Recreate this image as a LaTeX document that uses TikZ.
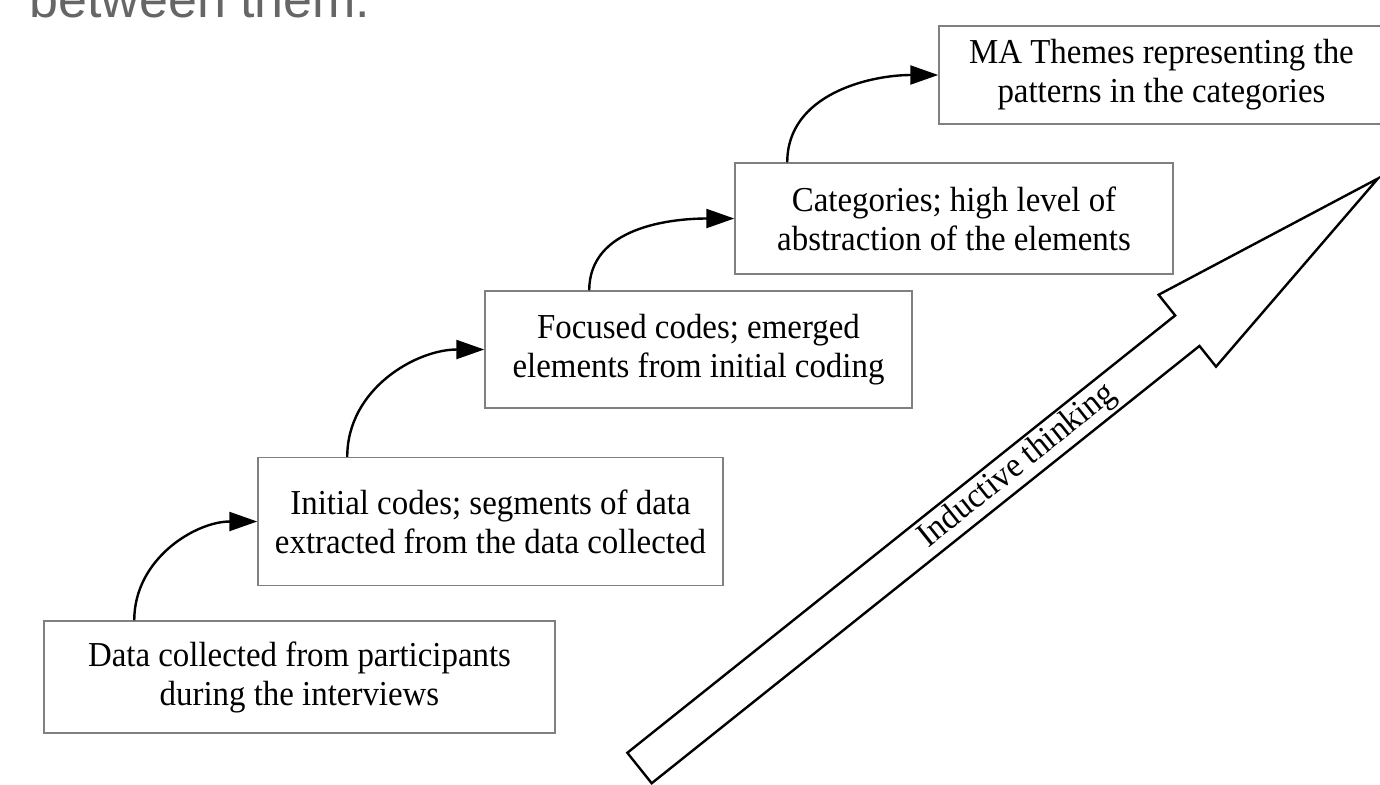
\documentclass[tikz,border=0pt]{standalone}
\usepackage{fontspec}
\setmainfont{Liberation Serif}[FakeStretch=0.94]
\newfontfamily\headfont{Liberation Sans}
\usetikzlibrary{arrows.meta}

\begin{document}
\begin{tikzpicture}[x=0.5pt, y=-0.5pt,
  stage/.style={draw=gray, line width=0.75pt, inner sep=0pt, align=center, font=\fontsize{17.5}{19.5}\selectfont},
  flow/.style={-{Triangle[length=14pt, width=9.5pt]}, line width=1.2pt}]
\useasboundingbox (0,0) rectangle (1380,784);
\clip (0,0) rectangle (1380,784);

\node[anchor=base west, inner sep=0pt, color=black!60, font=\headfont\fontsize{26}{30}\selectfont] (heading) at (29,17) {between them.};

\node[stage, minimum width=255.5pt, minimum height=56pt] (data) at (299.5,677) {Data collected from participants\\during the interviews};
\node[stage, minimum width=232.5pt, minimum height=64pt] (initial) at (490.5,521.5) {Initial codes; segments of data\\extracted from the data collected};
\node[stage, minimum width=213.5pt, minimum height=58.5pt] (focused) at (698.5,349.5) {Focused codes; emerged\\elements from initial coding};
\node[stage, minimum width=219pt, minimum height=55.5pt] (categories) at (954,218.5) {Categories; high level of\\abstraction of the elements};
\node[stage, minimum width=222.5pt, minimum height=49pt] (themes) at (1161.5,75) {MA Themes representing the\\patterns in the categories};

\draw[flow] ([xshift=45.5pt]data.north west) to[out=90, in=180] (initial.west);
\draw[flow] ([xshift=45pt]initial.north west) to[out=90, in=180] (focused.west);
\draw[flow] ([xshift=52.5pt]focused.north west) to[out=90, in=180] (categories.west);
\draw[flow] ([xshift=26.5pt]categories.north west) to[out=90, in=180] (themes.west);

\begin{scope}[shift={(639.5,768)}, rotate=38.6]
\draw[line width=1.2pt] (0,-19.5) -- (701,-19.5) -- (701,-46) -- (945,0) -- (701,46) -- (701,19.5) -- (0,19.5) -- cycle;
\node[rotate=38.6, inner sep=0pt, font=\fontsize{17.5}{19.5}\selectfont] (inductive) at (484,0) {Inductive thinking};
\end{scope}
\end{tikzpicture}
\end{document}
